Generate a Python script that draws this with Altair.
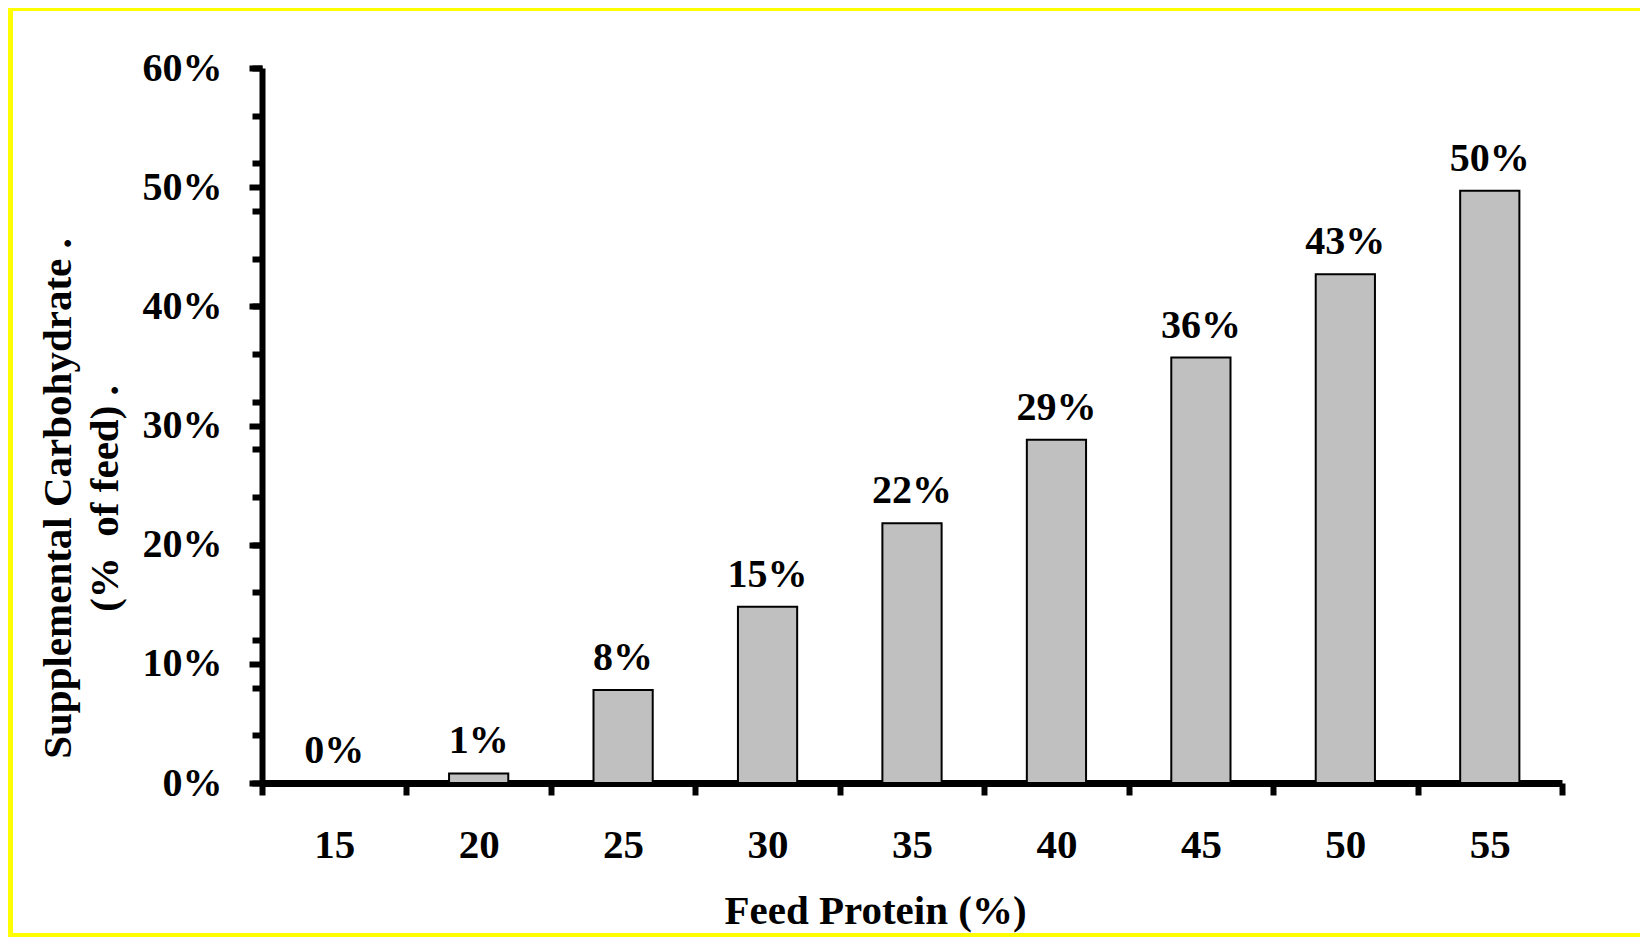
import altair as alt
import pandas as pd

protein = ["15", "20", "25", "30", "35", "40", "45", "50", "55"]
carb = [0.0, 0.008, 0.078, 0.148, 0.218, 0.288, 0.357, 0.427, 0.497]
y_major = [0.0, 0.1, 0.2, 0.3, 0.4, 0.5, 0.6]
y_minor = [i * 0.04 for i in range(16)]

FONT = "Liberation Serif"
NB = "\u00a0"
df = pd.DataFrame({"protein": protein, "carb": carb})

W, H = 1300, 715
PAD = {"left": 254, "top": 60, "right": 78, "bottom": 154}

x_axis = alt.Axis(
    tickBand="extent", tickSize=12, tickWidth=6, tickColor="black",
    domainWidth=7, domainColor="black", labelAngle=0,
    labelFont=FONT, labelFontSize=41, labelFontWeight="bold", labelColor="black",
    labelBaseline="alphabetic", labelPadding=62,
    title="Feed Protein (%)", titleFont=FONT, titleFontSize=41,
    titleFontWeight="bold", titleColor="black",
    titleX=613, titleY=140, titleBaseline="alphabetic", titleAlign="center",
    grid=False,
)
x_enc = alt.X("protein:N", sort=None,
              scale=alt.Scale(paddingInner=0, paddingOuter=0), axis=x_axis)
y_scale = alt.Scale(domain=[0, 0.6], nice=False)

y_axis = alt.Axis(
    orient="left", values=y_major, format=".0%", tickSize=13, tickWidth=6,
    tickColor="black", domainWidth=6, domainColor="black",
    labelFont=FONT, labelFontSize=40, labelFontWeight="bold", labelColor="black",
    labelPadding=27, grid=False,
    title=["Supplemental Carbohydrate .",
           NB * 5 + "(%" + NB * 2 + "of feed) ."],
    titleFont=FONT, titleFontSize=41, titleFontWeight="bold", titleColor="black",
    titleAngle=270, titleX=-192, titleY=430, titleBaseline="alphabetic",
    titleAlign="center", titleLineHeight=47,
)
minor_axis = alt.Axis(
    orient="left", values=y_minor, tickSize=10, tickWidth=6, tickColor="black",
    labels=False, domain=False, grid=False, title=None,
)

bars = alt.Chart(df).mark_bar(
    width=alt.RelativeBandSize(0.41), color="#c0c0c0", stroke="black", strokeWidth=2
).encode(
    x=x_enc,
    y=alt.Y("carb:Q", scale=y_scale, axis=y_axis),
)

labels = alt.Chart(df).mark_text(
    font=FONT, fontSize=40, fontWeight="bold", color="black",
    baseline="alphabetic", dy=-20,
).encode(
    x=x_enc,
    y=alt.Y("carb:Q", scale=y_scale, axis=minor_axis),
    text=alt.Text("carb:Q", format=".0%"),
)

one = pd.DataFrame({"a": [0]})
right_edge = W + PAD["right"]
bottom_edge = H + PAD["bottom"]
band_left = alt.Chart(one).mark_rect(color="#ffff00").encode(
    x=alt.value(-PAD["left"]), x2=alt.value(-PAD["left"] + 5),
    y=alt.value(-PAD["top"]), y2=alt.value(bottom_edge),
)
band_top = alt.Chart(one).mark_rect(color="#ffff00").encode(
    x=alt.value(-PAD["left"]), x2=alt.value(right_edge),
    y=alt.value(-PAD["top"]), y2=alt.value(-PAD["top"] + 3),
)
band_bottom = alt.Chart(one).mark_rect(color="#ffff00").encode(
    x=alt.value(-PAD["left"]), x2=alt.value(right_edge),
    y=alt.value(bottom_edge - 4), y2=alt.value(bottom_edge),
)

chart = alt.layer(bars, labels, band_left, band_top, band_bottom).resolve_axis(
    y="independent"
).properties(
    width=W, height=H, padding=PAD,
    autosize=alt.AutoSizeParams(type="none"),
    background="white",
).configure_view(stroke=None)

chart.save("out.html", embed_options={"renderer": "svg", "actions": False})
